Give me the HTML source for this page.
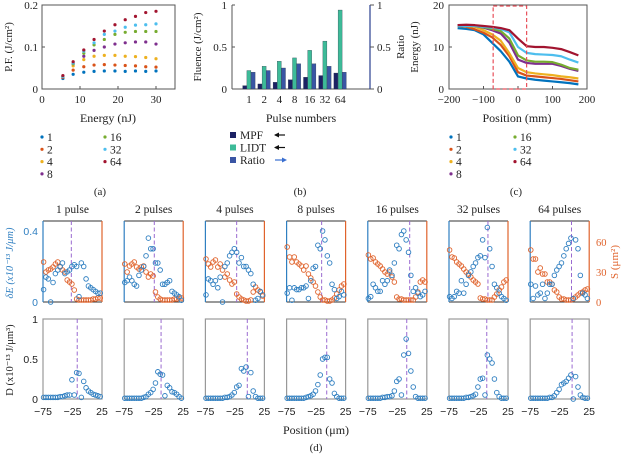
<!DOCTYPE html>
<html><head><meta charset="utf-8"><style>
html,body{margin:0;padding:0;background:#fff;width:626px;height:454px;overflow:hidden}
svg{display:block}
.serif{font-family:"Liberation Serif",serif}
.sans{font-family:"Liberation Sans",sans-serif}
</style></head><body>
<svg id="fig" width="626" height="454" viewBox="0 0 626 454" xmlns="http://www.w3.org/2000/svg"></svg>
<script>
// ---------- Panel (a) data ----------
const aEnergy = [5.5, 8.2, 11, 13.7, 16.4, 19.2, 21.9, 24.6, 27.3, 30];
const aPulseLabels = ['1','2','4','8','16','32','64'];
const aP1  = [.025,.035,.040,.042,.043,.043,.042,.043,.042,.043];
const aP2  = [.028,.045,.053,.057,.058,.057,.056,.055,.053,.052];
const aP4  = [.030,.055,.070,.078,.080,.080,.078,.077,.075,.072];
const aP8  = [.030,.060,.078,.092,.100,.107,.110,.112,.112,.107];
const aP16 = [.030,.060,.085,.105,.118,.130,.135,.137,.137,.137];
const aP32 = [.030,.062,.090,.110,.130,.138,.147,.152,.153,.155];
const aP64 = [.032,.065,.093,.118,.138,.153,.165,.173,.182,.185];
// ---------- Panel (b) data ----------
const bCategories = ['1','2','4','8','16','32','64'];
const bMPF   = [.04,.06,.08,.11,.14,.16,.19];
const bLIDT  = [.22,.27,.33,.37,.46,.57,.94];
const bRatio = [.20,.22,.25,.30,.30,.27,.20];
// ---------- Panel (c) data ----------
const cPos = [-175,-150,-125,-100,-75,-50,-25,0,25,50,75,100,125,150,175];
const c1  = [14.5,14.3,14,13,11,9,6.5,3,2.5,2.2,2,1.8,1.6,1.4,1.1];
const c2  = [15,14.8,14.2,13.4,12.3,10.5,7.8,4,3.2,3,2.8,2.6,2.4,2.1,1.8];
const c4  = [15,15,14.8,14,13,11.5,8.5,5,4,3.7,3.5,3.3,3,2.8,2.5];
const c8  = [15.2,15.2,15,14.6,14,13.2,11,7,6.2,6,6,6,5.5,4.8,4.3];
const c16 = [15,15,15,14.7,14.3,13.8,12,8,6.8,6.5,6.5,6.4,5.8,5,4.6];
const c32 = [15,15,15,14.8,14.6,14.3,13.5,10,8.6,8.3,8.2,8.1,7.8,7,6.3];
const c64 = [15.2,15.3,15.2,15,14.8,14.5,14,12,10.2,10,10,9.8,9.5,8.8,8];
// ---------- Panel (d) data ----------
const dTitles = ['1 pulse','2 pulses','4 pulses','8 pulses','16 pulses','32 pulses','64 pulses'];
const dPos = [-74,-70,-66,-62,-58,-54,-50,-46,-42,-38,-34,-30,-26,-22,-18,-14,-10,-6,-2,2,6,10,14,18,22];
const dXTicks = [-75,-25,25];
const dLineTop = [-27,-24,-22,-15.6,-4,-9,-5];
const dLineBot = [-17,-12.5,-4,-7,-9,-11,-4];
const dE1=[0.07,0.14,0.13,0.0,0.11,0.16,0.18,0.2,0.22,0.16,0.17,0.18,0.2,0.21,0.2,0.03,0.22,0.2,0.13,0.09,0.08,0.07,0.06,0.05,0.05];
const dE2=[0.11,0.12,0.14,0.12,0.1,0.09,0.15,0.18,0.2,0.26,0.36,0.3,0.3,0.22,0.22,0.18,0.1,0.1,0.11,0.12,0.06,0.05,0.04,0.03,0.01];
const dE3=[0.04,0.13,0.12,0.1,0.12,0.08,0.14,0.0,0.2,0.22,0.26,0.28,0.3,0.28,0.22,0.25,0.2,0.2,0.18,0.16,0.1,0.01,0.02,0.06,0.04];
const dE4=[0.05,0.08,0.01,0.08,0.07,0.07,0.08,0.08,0.09,0.02,0.12,0.19,0.2,0.32,0.3,0.4,0.35,0.26,0.22,0.1,0.07,0.02,0.03,0.06,0.04];
const dE5=[0.02,0.03,0.1,0.08,0.06,0.06,0.12,0.1,0.12,0.18,0.15,0.22,0.32,0.3,0.38,0.4,0.35,0.28,0.15,0.06,0.08,0.05,0.03,0.04,0.06];
const dE6=[0.03,0.02,0.03,0.06,0.05,0.12,0.05,0.1,0.15,0.17,0.2,0.22,0.25,0.26,0.35,0.25,0.42,0.3,0.2,0.1,0.08,0.05,0.03,0.02,0.01];
const dE7=[0.1,0.02,0.09,0.04,0.05,0.1,0.02,0.05,0.1,0.1,0.15,0.18,0.2,0.22,0.26,0.3,0.33,0.36,0.02,0.35,0.3,0.15,0.05,0.04,0.02];
const dS1=[40,30,32,33,35,38,40,35,32,30,22,20,18,12,3,2,2,2,2,2,2,3,3,4,4];
const dS2=[38,30,36,38,40,35,33,35,36,30,25,28,26,10,5,3,2,2,2,2,2,3,3,4,4];
const dS3=[43,38,35,40,42,35,38,32,25,28,22,18,20,8,5,3,2,1,1,2,10,15,12,10,6];
const dS4=[55,45,40,45,40,38,36,32,36,28,24,20,16,10,5,2,2,1,1,2,4,8,12,16,18];
const dS5=[47,43,44,40,38,36,33,30,28,30,25,20,5,3,3,2,2,2,2,2,5,10,20,22,20];
const dS6=[52,45,44,40,38,36,33,30,28,25,22,20,18,4,3,3,2,2,2,5,8,12,15,20,22];
const dS7=[52,43,43,30,34,28,28,20,20,18,12,10,5,3,3,2,2,2,3,5,7,9,10,12,13];
const dD1=[0.02,0.02,0.02,0.02,0.02,0.02,0.02,0.03,0.03,0.04,0.05,0.05,0.24,0.05,0.33,0.32,0.02,0.22,0.14,0.1,0.08,0.06,0.05,0.04,0.03];
const dD2=[0.01,0.01,0.01,0.01,0.01,0.01,0.01,0.01,0.02,0.03,0.06,0.08,0.12,0.2,0.34,0.31,0.3,0.04,0.17,0.14,0.09,0.08,0.06,0.03,0.01];
const dD3=[0.01,0.01,0.01,0.01,0.01,0.01,0.01,0.01,0.02,0.02,0.03,0.05,0.08,0.15,0.17,0.38,0.35,0.4,0.03,0.33,0.1,0.03,0.01,0.01,0.01];
const dD4=[0.01,0.01,0.01,0.01,0.01,0.01,0.01,0.01,0.02,0.03,0.04,0.06,0.1,0.18,0.3,0.5,0.52,0.52,0.25,0.2,0.07,0.03,0.01,0.01,0.01];
const dD5=[0.01,0.01,0.01,0.01,0.01,0.01,0.02,0.02,0.03,0.03,0.04,0.1,0.22,0.25,0.05,0.55,0.75,0.57,0.35,0.15,0.03,0.01,0.01,0.01,0.01];
const dD6=[0.01,0.01,0.01,0.01,0.01,0.01,0.01,0.02,0.02,0.03,0.04,0.06,0.15,0.25,0.26,0.05,0.55,0.5,0.45,0.25,0.08,0.03,0.01,0.01,0.01];
const dD7=[0.01,0.01,0.01,0.01,0.01,0.01,0.01,0.01,0.02,0.02,0.04,0.08,0.12,0.18,0.2,0.22,0.26,0.3,0.0,0.28,0.15,0.05,0.02,0.01,0.01];

const NS='http://www.w3.org/2000/svg';
const svg=document.getElementById('fig');
const COLORS=['#0072bd','#d95319','#edb120','#7e2f8e','#77ac30','#4dbeee','#a2142f'];
function mk(tag,attrs,parent){const e=document.createElementNS(NS,tag);for(const k in attrs)e.setAttribute(k,attrs[k]);(parent||svg).appendChild(e);return e;}
function txt(s,x,y,opt,parent){const t=mk('text',Object.assign({x:x,y:y,'font-size':11,'text-anchor':'middle',fill:'#222'},opt||{}),parent);t.setAttribute('class',(opt&&opt.cls)||'serif');t.textContent=s;return t;}
function lin(d0,d1,r0,r1){return v=>r0+(v-d0)/(d1-d0)*(r1-r0);}

// ================= Panel (a) =================
(function(){
 const g=mk('g',{});
 
 
 const x=lin(0,35,42,175), y=lin(0,0.2,89,5);
 const box=mk('rect',{x:42,y:5,width:133,height:84,fill:'none',stroke:'#555','stroke-width':1},g);
 
 
 [0,10,20,30].forEach(v=>{mk('line',{x1:x(v),x2:x(v),y1:89,y2:86,stroke:'#555'},g);const t=txt(String(v),x(v),103,{},g);});
 [[0,'0'],[0.1,'0.1'],[0.2,'0.2']].forEach(([v,s])=>{mk('line',{x1:42,x2:45,y1:y(v),y2:y(v),stroke:'#555'},g);const t=txt(s,38,y(v)+4,{'text-anchor':'end'},g);});
 const xt=txt('Energy (nJ)',108,122,{'font-size':12},g);
 const yt=txt('P.F. (J/cm²)',0,0,{'font-size':11,transform:'translate(12,47) rotate(-90)'},g);
 const series=[aP1,aP2,aP4,aP8,aP16,aP32,aP64];
 series.forEach((s,si)=>{s.forEach((v,i)=>{const c=mk('circle',{cx:x(aEnergy[i]),cy:y(v),r:1.6,fill:COLORS[si]},g);});});
 legend(g,42,105,137,aPulseLabels,'a');
 const p=txt('(a)',100,195,{},g);
})();
function legend(g,x1,x2,y0,labels,suf){
 labels.forEach((l,i)=>{const col=i<4?0:1,row=i<4?i:i-4;const lx=col?x2:x1,ly=y0+row*12.3;
  const e=mk('g',{},g);
  mk('circle',{cx:lx,cy:ly,r:1.6,fill:COLORS[i]},e);txt(l,lx+5,ly+4,{'text-anchor':'start','font-size':11.5},e);});
}

// ================= Panel (b) =================
(function(){
 const g=mk('g',{});
 
 
 const y=lin(0,1,89,5);
 const cx=i=>249+i*15.2;
 mk('line',{x1:232,x2:232,y1:5,y2:89,stroke:'#555'},g);
 mk('line',{x1:232,x2:370,y1:89,y2:89,stroke:'#555'},g);
 const ra=mk('line',{x1:370,x2:370,y1:5,y2:89,stroke:'#2a3f8f','stroke-width':1.2},g);
 
 [[0,'0'],[0.5,'0.5'],[1,'1']].forEach(([v,s])=>{
  mk('line',{x1:232,x2:235,y1:y(v),y2:y(v),stroke:'#555'},g);
  const t=txt(s,227,y(v)+4,{'text-anchor':'end'},g);
  mk('line',{x1:370,x2:374,y1:y(v),y2:y(v),stroke:'#555'},g);
  const t2=txt(s,377,y(v)+4,{'text-anchor':'start'},g);
 });
 const cols=['#1c2164','#3dbb98','#3a55a4'];
 const names=['mpf','lidt','ratio'];
 [bMPF,bLIDT,bRatio].forEach((s,si)=>{s.forEach((v,i)=>{
  const r=mk('rect',{x:cx(i)-6.3+si*4.2,y:y(v),width:4,height:89-y(v),fill:cols[si],stroke:'#234',"stroke-width":0.3},g);
  });});
 bCategories.forEach((c,i)=>{const t=txt(c,cx(i),103,{},g);});
 const xt=txt('Pulse numbers',301,122,{'font-size':12},g);
 const yt=txt('Fluence (J/cm²)',0,0,{transform:'translate(201,47) rotate(-90)'},g);
 const y2=txt('Ratio',0,0,{transform:'translate(404,47) rotate(-90)'},g);
 const lab=['MPF','LIDT','Ratio'];
 lab.forEach((l,i)=>{const ly=136+i*12.5;const e=mk('g',{},g);
  mk('rect',{x:230,y:ly-4,width:6,height:6,fill:cols[i]},e);txt(l,240,ly+3,{'text-anchor':'start','font-size':11.5},e);
  const ac=i==2?'#3a6fd0':'#111';const ax=275;
  mk('line',{x1:ax,x2:ax+10,y1:ly-1,y2:ly-1,stroke:ac,'stroke-width':1.2},e);
  if(i<2)mk('polygon',{points:`${ax-1},${ly-1} ${ax+4},${ly-3.5} ${ax+4},${ly+1.5}`,fill:ac},e);
  else mk('polygon',{points:`${ax+12},${ly-1} ${ax+7},${ly-3.5} ${ax+7},${ly+1.5}`,fill:ac},e);
 });
 const p=txt('(b)',300,195,{},g);
})();

// ================= Panel (c) =================
(function(){
 const g=mk('g',{});
 
 
 const x=lin(-200,200,449,587), y=lin(0,20,89,5);
 mk('rect',{x:449,y:5,width:138,height:84,fill:'none',stroke:'#555'},g);
 [-200,-100,0,100,200].forEach(v=>{mk('line',{x1:x(v),x2:x(v),y1:89,y2:86,stroke:'#555'},g);const t=txt(v<0?'−'+(-v):String(v),x(v),103,{},g);});
 [0,10,20].forEach(v=>{mk('line',{x1:449,x2:452,y1:y(v),y2:y(v),stroke:'#555'},g);const t=txt(String(v),444,y(v)+4,{'text-anchor':'end'},g);});
 const series=[c1,c2,c4,c8,c16,c32,c64];
 series.forEach((s,si)=>{const pts=s.map((v,i)=>x(cPos[i])+','+y(v)).join(' ');
  const l=mk('polyline',{points:pts,fill:'none',stroke:COLORS[si],'stroke-width':2.2,'stroke-linejoin':'round'},g);
  });
 const r=mk('rect',{x:x(-72),y:6,width:x(25)-x(-72),height:83,fill:'none',stroke:'#e8505b','stroke-width':1.2,'stroke-dasharray':'4,2.5'},g);
 
 const xt=txt('Position (mm)',517,122,{'font-size':12},g);
 const yt=txt('Energy (nJ)',0,0,{transform:'translate(418,47) rotate(-90)'},g);
 legend(g,451,515,137,aPulseLabels,'c');
 const p=txt('(c)',516,195,{},g);
})();

// ================= Panel (d) =================
(function(){
 const g=mk('g',{});
 
 
 const dE=[dE1,dE2,dE3,dE4,dE5,dE6,dE7], dS=[dS1,dS2,dS3,dS4,dS5,dS6,dS7], dD=[dD1,dD2,dD3,dD4,dD5,dD6,dD7];
 const BLUE='#2f7fc1', ORANGE='#e0632c', PURPLE='#9a6ad0';
 const yE=lin(0,0.4,302,231), yS=lin(0,60,302,242), yD=lin(0,1,399,319);
 for(let p=0;p<7;p++){
  const L=43+p*81.2, R=L+59;
  const x=lin(-75,25,L,R);
  const pg=mk('g',{},g);
  const t=txt(dTitles[p],(L+R)/2,213,{'font-size':11.5},pg);
  mk('line',{x1:L,x2:R,y1:221,y2:221,stroke:'#333'},pg);
  mk('line',{x1:L,x2:R,y1:302,y2:302,stroke:'#333'},pg);
  mk('line',{x1:L,x2:L,y1:221,y2:302,stroke:BLUE,'stroke-width':1.2},pg);
  mk('line',{x1:R,x2:R,y1:221,y2:302,stroke:ORANGE,'stroke-width':1.2},pg);
  const dl=mk('line',{x1:x(dLineTop[p]),x2:x(dLineTop[p]),y1:221,y2:302,stroke:PURPLE,'stroke-dasharray':'4,2.5'},pg);
  
  dS[p].forEach((v,i)=>{const c=mk('circle',{cx:x(dPos[i]),cy:yS(v),r:2.3,fill:'none',stroke:ORANGE,'stroke-width':0.9},pg);});
  dE[p].forEach((v,i)=>{const c=mk('circle',{cx:x(dPos[i]),cy:yE(v),r:2.3,fill:'none',stroke:BLUE,'stroke-width':0.9},pg);});
  mk('rect',{x:L,y:319,width:59,height:80,fill:'none',stroke:'#999','stroke-width':1.2},pg);
  const dl2=mk('line',{x1:x(dLineBot[p]),x2:x(dLineBot[p]),y1:319,y2:399,stroke:PURPLE,'stroke-dasharray':'4,2.5'},pg);
  
  dD[p].forEach((v,i)=>{const c=mk('circle',{cx:x(dPos[i]),cy:yD(v),r:2.3,fill:'none',stroke:BLUE,'stroke-width':0.9},pg);});
  dXTicks.forEach(v=>{const tt=txt(v<0?'−'+(-v):String(v),x(v),415,{cls:'sans','font-size':10.5},pg);});
 }
 [[0,'0'],[0.4,'0.4']].forEach(([v,s])=>{const t=txt(s,38,yE(v)+4,{'text-anchor':'end',fill:'#2f7fc1',cls:'sans','font-size':10.5},g);});
 [[0,'0'],[0.5,'0.5'],[1,'1']].forEach(([v,s])=>{const t=txt(s,38,yD(v)+4,{'text-anchor':'end',cls:'sans','font-size':10.5},g);});
 [[0,'0'],[30,'30'],[60,'60']].forEach(([v,s])=>{const t=txt(s,596,yS(v)+4,{'text-anchor':'start',fill:'#e0632c','font-size':10.5},g);});
 const a=txt('δE (x10⁻¹³ J/μm)',0,0,{fill:'#2f7fc1','font-size':10.5,'font-style':'italic',transform:'translate(13,263) rotate(-90)'},g);
 const b=txt('D (x10⁻¹³ J/μm³)',0,0,{'font-size':10.5,transform:'translate(13,360) rotate(-90)'},g);
 const c=txt('S (μm²)',0,0,{fill:'#e0632c','font-size':11,transform:'translate(618,262) rotate(-90)'},g);
 const d=txt('Position (μm)',316,434,{'font-size':12},g);
 const e=txt('(d)',316,451,{},g);
})();
</script>
</body></html>
